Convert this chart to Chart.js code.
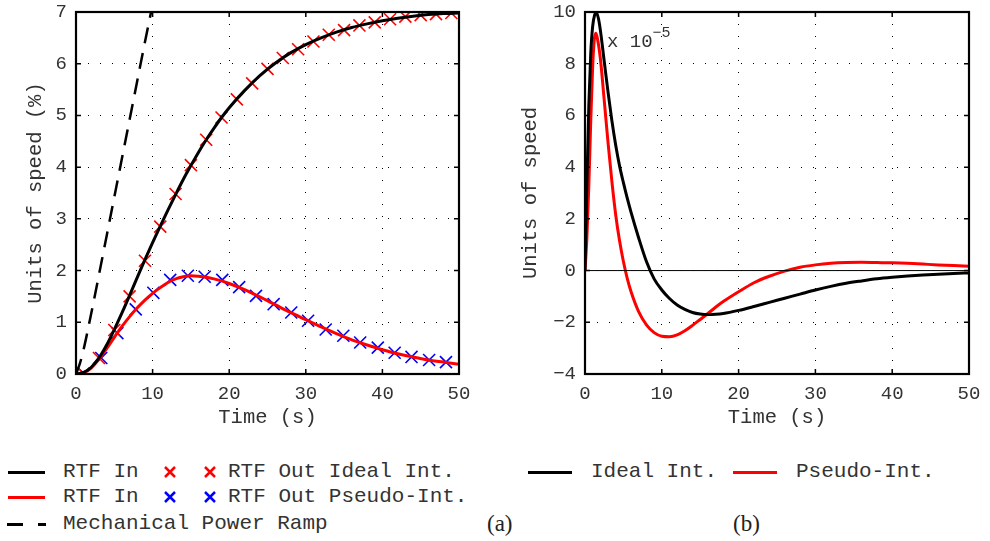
<!DOCTYPE html>
<html>
<head>
<meta charset="utf-8">
<script src="https://cdn.jsdelivr.net/npm/chart.js@4.4.1/dist/chart.umd.min.js"></script>
<style>
  html, body { margin: 0; padding: 0; background: #fff; }
  #page { position: relative; width: 990px; height: 541px; overflow: hidden; font-family: 'Liberation Mono', monospace; color: #333; }
  canvas { position: absolute; top: 0; }
  .txt { position: absolute; font-size: 21px; line-height: 24px; white-space: pre; }
  .cap { position: absolute; font-family: 'Liberation Serif', serif; font-size: 23px; line-height: 26px; color: #222; }
  .ln { position: absolute; height: 3px; }
  svg { position: absolute; }
</style>
</head>
<body>
<div id="page">
  <canvas id="left" width="480" height="440" style="left:0"></canvas>
  <canvas id="right" width="495" height="440" style="left:495px"></canvas>

  <!-- legend (a) -->
  <div class="ln" style="left:8px;top:471px;width:37px;background:#000"></div>
  <div class="txt" style="left:63px;top:460px">RTF In</div>
  <svg style="left:164px;top:466px" width="12" height="12"><path d="M1 1L11 11M11 1L1 11" stroke="#f00" stroke-width="2.5"/></svg>
  <svg style="left:204px;top:466px" width="12" height="12"><path d="M1 1L11 11M11 1L1 11" stroke="#f00" stroke-width="2.5"/></svg>
  <div class="txt" style="left:228px;top:460px">RTF Out Ideal Int.</div>

  <div class="ln" style="left:8px;top:496px;width:37px;background:#f00"></div>
  <div class="txt" style="left:63px;top:485px">RTF In</div>
  <svg style="left:164px;top:491px" width="12" height="12"><path d="M1 1L11 11M11 1L1 11" stroke="#00f" stroke-width="2.5"/></svg>
  <svg style="left:204px;top:491px" width="12" height="12"><path d="M1 1L11 11M11 1L1 11" stroke="#00f" stroke-width="2.5"/></svg>
  <div class="txt" style="left:228px;top:485px">RTF Out Pseudo-Int.</div>

  <div class="ln" style="left:7px;top:523px;width:16px;background:#000"></div>
  <div class="ln" style="left:38px;top:523px;width:8px;background:#000"></div>
  <div class="txt" style="left:63px;top:512px">Mechanical Power Ramp</div>
  <div class="cap" style="left:487px;top:511px">(a)</div>

  <!-- legend (b) -->
  <div class="ln" style="left:528px;top:471px;width:44px;background:#000"></div>
  <div class="txt" style="left:591px;top:460px">Ideal Int.</div>
  <div class="ln" style="left:733px;top:471px;width:44px;background:#f00"></div>
  <div class="txt" style="left:796px;top:460px">Pseudo-Int.</div>
  <div class="cap" style="left:733px;top:511px">(b)</div>
</div>

<script>
// ---- panel (a): speed response in % ----
const tIn = [0, 1, 2, 3, 4, 5, 6, 7, 8, 9, 10, 11, 12, 13, 14, 15, 16, 17, 18, 19, 20,
             22, 24, 26, 28, 30, 32, 34, 36, 38, 40, 42, 44, 46, 48, 50];
const idealIn = [0, 0.03, 0.13, 0.31, 0.56, 0.86, 1.18, 1.52, 1.87, 2.21, 2.54, 2.86, 3.17, 3.47, 3.76, 4.03, 4.29, 4.53, 4.75, 4.96, 5.15,
                 5.48, 5.77, 6.01, 6.21, 6.37, 6.50, 6.61, 6.70, 6.77, 6.83, 6.88, 6.92, 6.95, 6.97, 6.98];
const pseudoIn = [0, 0.02, 0.12, 0.29, 0.49, 0.71, 0.92, 1.11, 1.28, 1.43, 1.56, 1.67, 1.77, 1.84, 1.88, 1.90, 1.89, 1.87, 1.84, 1.80, 1.75,
                  1.63, 1.49, 1.34, 1.19, 1.05, 0.91, 0.78, 0.66, 0.56, 0.47, 0.39, 0.33, 0.27, 0.23, 0.19];

const tOutIdeal = [1, 3, 5, 7, 9, 11, 13, 15, 17, 19, 21, 23, 25, 27, 29, 31, 33, 35, 37, 39, 41, 43, 45, 47, 49];
const outIdeal = [0.01, 0.31, 0.85, 1.50, 2.19, 2.85, 3.48, 4.04, 4.53, 4.96, 5.31, 5.62, 5.90, 6.11, 6.28, 6.43, 6.56, 6.65, 6.74, 6.80, 6.86, 6.91, 6.94, 6.96, 6.98];

const tOutPseudo = [1.0, 3.3, 5.4, 7.8, 10.1, 12.3, 14.6, 16.8, 19.1, 21.3, 23.5, 25.8, 28.1, 30.3, 32.6, 34.9, 37.1, 39.4, 41.6, 43.8, 46.1, 48.3];
const outPseudo = [0.01, 0.31, 0.79, 1.25, 1.57, 1.82, 1.90, 1.88, 1.82, 1.68, 1.51, 1.35, 1.19, 1.03, 0.86, 0.74, 0.61, 0.51, 0.41, 0.33, 0.27, 0.23];

const tRamp = [0, 0.5, 1, 1.5, 2, 3, 4, 5, 6, 7, 8, 9, 9.8];
const ramp = [0, 0.2, 0.48, 0.82, 1.18, 1.92, 2.67, 3.42, 4.17, 4.92, 5.67, 6.42, 7.0];

// ---- panel (b): deviation, x 10^-5 ----
const tDev = [0, 0.25, 0.5, 0.75, 1, 1.25, 1.5, 1.75, 2, 2.5, 3, 3.5, 4, 4.5, 5, 5.5, 6, 7, 8, 9, 10,
              11, 12, 13, 14, 15, 16, 17, 18, 20, 22, 24, 26, 28, 30, 32, 34, 36, 38, 40, 42, 44, 46, 48, 50];
const idealDev = [0, 3.4, 6.4, 8.4, 9.45, 9.88, 9.97, 9.75, 9.3, 8.1, 6.9, 5.8, 4.85, 4.05, 3.4, 2.8, 2.25, 1.25, 0.35, -0.32, -0.75,
                  -1.08, -1.33, -1.50, -1.62, -1.68, -1.70, -1.69, -1.66, -1.54, -1.39, -1.23, -1.07, -0.91, -0.75, -0.61, -0.49, -0.40, -0.32, -0.26, -0.21, -0.17, -0.14, -0.11, -0.09];
const tDevP = [0, 0.25, 0.5, 0.75, 1, 1.2, 1.4, 1.6, 2, 2.5, 3, 3.5, 4, 4.5, 5, 5.5, 6, 7, 8, 9, 10,
               11, 12, 13, 14, 15, 16, 17, 18, 20, 22, 24, 26, 28, 30, 32, 34, 36, 38, 40, 42, 44, 46, 48, 50];
const pseudoDev = [0, 1.3, 3.3, 5.8, 7.9, 8.9, 9.18, 9.0, 8.2, 6.6, 4.95, 3.45, 2.15, 1.15, 0.35, -0.3, -0.82, -1.6, -2.1, -2.4, -2.54,
                   -2.56, -2.49, -2.33, -2.12, -1.89, -1.66, -1.42, -1.2, -0.82, -0.47, -0.22, -0.02, 0.13, 0.22, 0.28, 0.31, 0.32, 0.31, 0.30, 0.28, 0.25, 0.22, 0.20, 0.17];
const zeroT = [0, 50];
const zeroV = [0, 0];

const FONT = 'Liberation Mono';
const pts = (xs, ys) => xs.map((x, i) => ({ x: x, y: ys[i] }));

// box frame + inward tick marks, MATLAB style
const framePlugin = {
    id: 'frame',
    afterDatasetsDraw(chart) {
        const { ctx, chartArea: a, scales } = chart;
        ctx.save();
        ctx.strokeStyle = '#000';
        ctx.lineWidth = 1.5;
        ctx.beginPath();
        scales.x.ticks.forEach(t => {
            const px = scales.x.getPixelForValue(t.value);
            ctx.moveTo(px, a.bottom); ctx.lineTo(px, a.bottom - 5);
            ctx.moveTo(px, a.top); ctx.lineTo(px, a.top + 5);
        });
        scales.y.ticks.forEach(t => {
            const py = scales.y.getPixelForValue(t.value);
            ctx.moveTo(a.left, py); ctx.lineTo(a.left + 5, py);
            ctx.moveTo(a.right, py); ctx.lineTo(a.right - 5, py);
        });
        ctx.stroke();
        ctx.lineWidth = 2.2;
        ctx.strokeRect(a.left, a.top, a.right - a.left, a.bottom - a.top);
        ctx.restore();
    }
};

// exponent note for panel (b)
const expPlugin = {
    id: 'expNote',
    afterDraw(chart) {
        if (chart.canvas.id !== 'right') return;
        const { ctx, chartArea: a } = chart;
        ctx.save();
        ctx.fillStyle = '#333';
        ctx.textBaseline = 'middle';
        ctx.font = '19px ' + FONT;
        const x0 = a.left + 22, y0 = a.top + 30;
        ctx.fillText('x 10', x0, y0);
        const w = ctx.measureText('x 10').width;
        ctx.font = '15px ' + FONT;
        ctx.fillText('\u22125', x0 + w, y0 - 9);
        ctx.restore();
    }
};

function axisOpts(min, max, step, title, fixed, titlePad) {
    return {
        type: 'linear', min: min, max: max,
        ticks: {
            stepSize: step, color: '#333', padding: 9,
            font: { family: FONT, size: 19 },
            callback: v => String(v).replace('-', '\u2212')
        },
        grid: { color: '#000', lineWidth: 1, drawTicks: false },
        border: { display: false, dash: [1, 11] },
        title: { display: true, text: title, color: '#333', font: { family: FONT, size: 20.5 }, padding: titlePad },
        afterFit(s) {
            if (s.isHorizontal()) s.height = fixed; else s.width = fixed;
            s.paddingTop = 0; s.paddingBottom = 0; s.paddingLeft = 0; s.paddingRight = 0;
        }
    };
}

function baseOptions(yMin, yMax, yStep, yTitle, yWidth) {
    return {
        responsive: false,
        animation: false,
        events: [],
        layout: { padding: { left: 0, right: 21, top: 12, bottom: 0 } },
        plugins: { legend: { display: false }, tooltip: { enabled: false } },
        elements: { point: { radius: 0 } },
        scales: {
            x: axisOpts(0, 50, 10, 'Time (s)', 66, { top: 0, bottom: 10 }),
            y: axisOpts(yMin, yMax, yStep, yTitle, yWidth, { top: 23, bottom: 0 })
        }
    };
}

const lineDs = (data, color, extra) => Object.assign({
    data: data, showLine: true, borderColor: color, borderWidth: 3,
    pointRadius: 0, cubicInterpolationMode: 'monotone', fill: false
}, extra || {});

const crossDs = (data, color) => ({
    data: data, showLine: false, pointStyle: 'crossRot', pointRadius: 8.5,
    borderColor: color, pointBorderWidth: 1.6, pointBorderColor: color, backgroundColor: color
});

new Chart(document.getElementById('left'), {
    type: 'scatter',
    data: {
        datasets: [
            lineDs(pts(tIn, idealIn), '#000'),
            lineDs(pts(tRamp, ramp), '#000', { borderDash: [16, 10], borderWidth: 2.5 }),
            lineDs(pts(tIn, pseudoIn), '#f00'),
            crossDs(pts(tOutIdeal, outIdeal), '#f00'),
            crossDs(pts(tOutPseudo, outPseudo), '#00f')
        ]
    },
    options: baseOptions(0, 7, 1, 'Units of speed (%)', 76),
    plugins: [framePlugin]
});

new Chart(document.getElementById('right'), {
    type: 'scatter',
    data: {
        datasets: [
            lineDs(pts(zeroT, zeroV), '#000', { borderWidth: 1, cubicInterpolationMode: 'default' }),
            lineDs(pts(tDev, idealDev), '#000'),
            lineDs(pts(tDevP, pseudoDev), '#f00')
        ]
    },
    options: baseOptions(-4, 10, 2, 'Units of speed', 90),
    plugins: [framePlugin, expPlugin]
});
</script>
</body>
</html>
